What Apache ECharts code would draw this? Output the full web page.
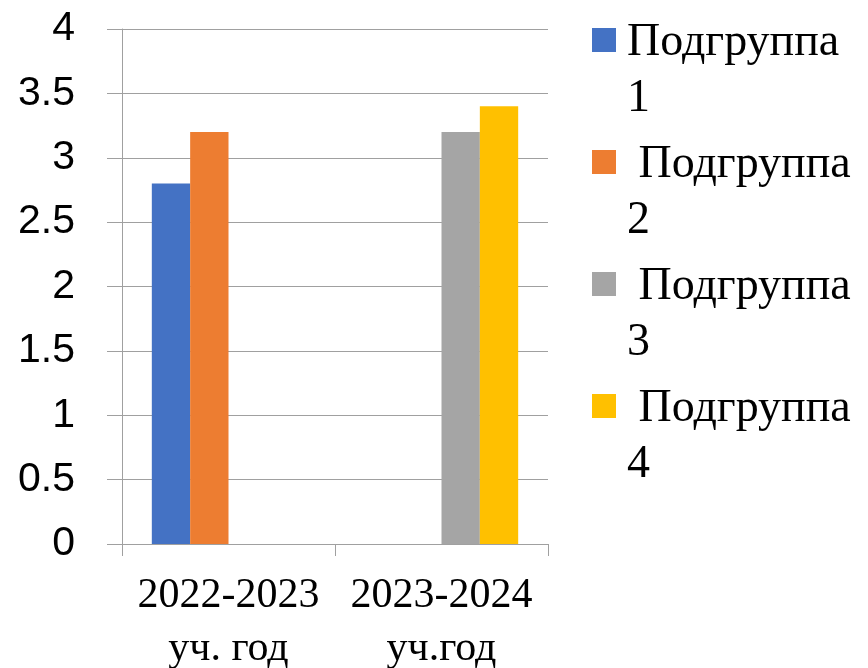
<!DOCTYPE html>
<html>
<head>
<meta charset="utf-8">
<script src="https://cdn.jsdelivr.net/npm/echarts@6/dist/echarts.min.js"></script>
<style>
html,body{margin:0;padding:0;background:#fff;}
#chart{width:868px;height:668px;}
</style>
</head>
<body>
<div id="chart"></div>
<script>
var categories = ['2022-2023\nуч. год', '2023-2024\nуч.год'];
var seriesNames = ['Подгруппа 1', 'Подгруппа 2', 'Подгруппа 3', 'Подгруппа 4'];
var group1 = [2.8, '-'];
var group2 = [3.2, '-'];
var group3 = ['-', 3.2];
var group4 = ['-', 3.4];
var colors = ['#4472C4', '#ED7D31', '#A5A5A5', '#FFC000'];

var seriesData = [group1, group2, group3, group4];
var gridColor = '#A0A0A0';

var chart = echarts.init(document.getElementById('chart'), null, {renderer: 'canvas'});
var legendIcon = 'path://M0,0L0,0M0,112L0,112M0,13L24,13L24,37L0,37Z';

chart.setOption({
  animation: false,
  color: colors,
  grid: {left: 122, right: 320, top: 29, bottom: 124, containLabel: false, outerBoundsMode: 'none'},
  legend: {
    orient: 'vertical',
    left: 592,
    top: 15,
    padding: 0,
    itemWidth: 24,
    itemHeight: 112,
    itemGap: 10,
    icon: legendIcon,
    data: seriesNames,
    formatter: function (name) {
      var idx = seriesNames.indexOf(name);
      return (idx > 0 ? ' ' : '') + name.replace(' ', '\n');
    },
    textStyle: {
      fontFamily: 'Liberation Serif',
      fontSize: 46,
      lineHeight: 56,
      color: '#000',
      padding: [0, 0, 0, 6]
    }
  },
  xAxis: {
    type: 'category',
    data: categories,
    axisLine: {show: true, lineStyle: {color: gridColor, width: 1}},
    axisTick: {show: true, length: 12, lineStyle: {color: gridColor}},
    axisLabel: {
      interval: 0,
      hideOverlap: false,
      margin: 25,
      fontFamily: 'Liberation Serif',
      fontSize: 42,
      lineHeight: 53,
      color: '#000'
    },
    splitLine: {show: false}
  },
  yAxis: {
    type: 'value',
    min: 0,
    max: 4,
    interval: 0.5,
    axisLine: {show: true, lineStyle: {color: gridColor, width: 1}},
    axisTick: {show: true, length: 15, lineStyle: {color: gridColor}},
    axisLabel: {
      margin: 47,
      fontFamily: 'Liberation Sans',
      fontSize: 41,
      color: '#000'
    },
    splitLine: {show: true, lineStyle: {color: gridColor, width: 1}}
  },
  series: seriesNames.map(function (n, i) {
    return {
      name: n,
      type: 'bar',
      data: seriesData[i],
      barGap: '0%',
      barCategoryGap: '28%',
      itemStyle: {color: colors[i]}
    };
  })
});
</script>
</body>
</html>
